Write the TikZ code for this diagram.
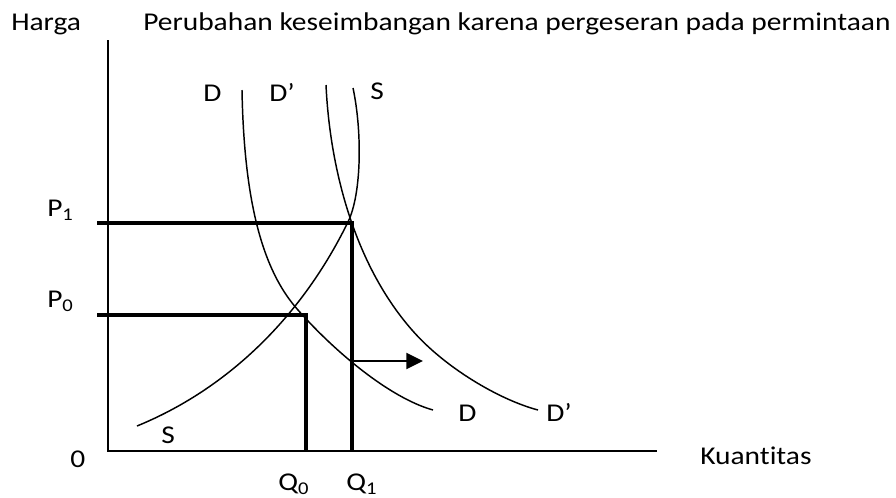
\documentclass[tikz,border=0pt]{standalone}
\usepackage{fontspec}
\setmainfont{Carlito}[FakeStretch=1.15,Ligatures=CommonOff]
\usetikzlibrary{arrows.meta}

\begin{document}
\begin{tikzpicture}[
  x=0.75pt,y=-0.75pt,
  axis/.style={line width=1.5pt},
  curve/.style={line width=1.1pt},
  level/.style={line width=2.3pt},
  lbl/.style={anchor=base west,inner sep=0pt,font=\fontsize{19.2}{23}\selectfont},
]
\useasboundingbox (0,0) rectangle (896,497);
% axes
\coordinate (top) at (108,40);
\coordinate (origin) at (108,451);
\coordinate (right) at (657,451);
\draw[axis] (top) -- (origin) -- (right);
\node[lbl] (harga) at (11,30) {Harga};
\node[lbl] (judul) at (143,30) {Perubahan keseimbangan karena pergeseran pada permintaan};
\node[lbl] (nol) at (70,467) {0};
\node[lbl] (kuantitas) at (700,464) {Kuantitas};
% curves
\draw[curve] (242,90) .. controls (244,200) and (262,270) .. (298,310)
  .. controls (335,352) and (390,398) .. (433,410);
\draw[curve] (326,85) .. controls (330,170) and (355,265) .. (412,330)
  .. controls (445,368) and (500,400) .. (538,410);
\draw[curve] (137,426) .. controls (225,390) and (300,320) .. (348,222)
  .. controls (362,193) and (362,130) .. (353,88);
\node[lbl] (dAtas) at (203,101) {D};
\node[lbl] (dbAtas) at (269,101) {D’};
\node[lbl] (sAtas) at (370,99) {S};
\node[lbl] (dBawah) at (458,421) {D};
\node[lbl] (dbBawah) at (546,421) {D’};
\node[lbl] (sBawah) at (161,443) {S};
% equilibrium levels
\coordinate (p1) at (97,223);
\coordinate (e1) at (352,223);
\coordinate (q1) at (352,451);
\coordinate (p0) at (97,315);
\coordinate (e0) at (306,315);
\coordinate (q0) at (306,451);
\draw[level] (p1) -- (e1) -- (q1);
\draw[level] (p0) -- (e0) -- (q0);
\node[lbl] (labelP1) at (47,216) {P\textsubscript{1}};
\node[lbl] (labelP0) at (47,307) {P\textsubscript{0}};
\node[lbl] (labelQ0) at (278,490) {Q\textsubscript{0}};
\node[lbl] (labelQ1) at (346,490) {Q\textsubscript{1}};
% shift of demand
\coordinate (geserA) at (352,361);
\coordinate (geserB) at (423,361);
\draw[line width=1.5pt,-{Triangle[length=12.5pt,width=12pt]}] (geserA) -- (geserB);
\end{tikzpicture}
\end{document}
